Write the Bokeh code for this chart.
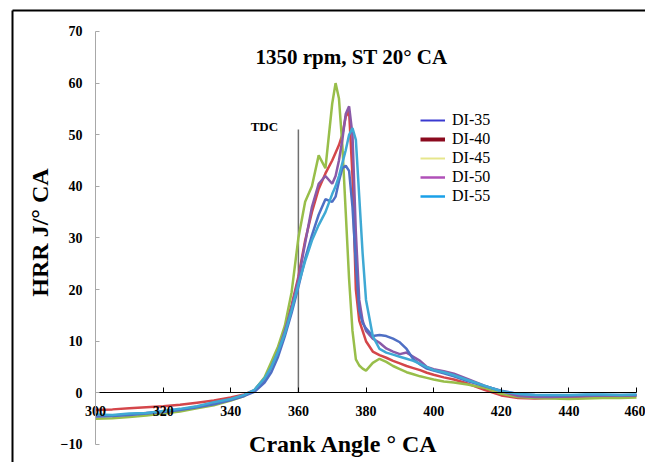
from math import pi
from bokeh.plotting import figure
from bokeh.models import Label, Legend, LegendItem, FixedTicker, Range1d
from bokeh.embed import file_html
from bokeh.resources import INLINE

# ---------------- data ----------------
crank_angle = [300, 305, 310, 315, 320, 325, 330, 335, 340, 344, 347,
               350, 352, 354, 356, 358, 360, 362, 364, 366, 368, 370,
               371, 372, 373, 374, 375, 376, 377, 378, 379, 380,
               382, 384, 386, 388, 390, 392, 394, 396, 398, 400,
               403, 406, 410, 415, 420, 425, 430, 435, 440, 445, 450, 455, 460]

di_35 = [-4.6, -4.5, -4.3, -4.0, -3.7, -3.3, -2.8, -2.2, -1.4, -0.6, 0.2,
         2.0, 4.0, 7.0, 11.0, 15.5, 20.5, 26.0, 30.5, 34.5, 37.5, 37.0,
         38.0, 41.0, 43.5, 44.0, 43.0, 36.0, 25.0, 16.0, 13.5, 12.5,
         11.0, 11.2, 11.0, 10.5, 9.8, 8.5, 6.5, 5.5, 4.7, 4.3,
         3.8, 3.2, 2.3, 1.3, 0.4, -0.2, -0.4, -0.5, -0.5, -0.4, -0.4, -0.4, -0.4]

di_40 = [-3.3, -3.2, -3.0, -2.8, -2.6, -2.3, -1.9, -1.5, -0.9, -0.3, 0.5,
         2.8, 5.3, 8.5, 12.5, 17.0, 22.5, 29.5, 35.0, 39.5, 42.5, 45.0,
         46.5, 48.0, 50.0, 53.5, 54.5, 42.0, 20.0, 14.0, 12.0, 10.0,
         8.0, 7.3, 6.8, 6.2, 5.7, 5.2, 4.8, 4.4, 3.9, 3.5,
         3.0, 2.6, 1.8, 0.6, -0.5, -1.0, -1.1, -1.0, -0.8, -0.7, -0.6, -0.6, -0.5]

di_45 = [-5.0, -4.9, -4.7, -4.4, -4.0, -3.6, -3.0, -2.4, -1.5, -0.6, 0.5,
         3.0, 6.0, 9.0, 13.0, 19.5, 30.0, 37.0, 40.0, 46.0, 43.5, 56.0,
         60.0, 57.0, 48.0, 35.0, 22.0, 12.0, 6.5, 5.3, 4.7, 4.3,
         5.8, 6.6, 6.0, 5.2, 4.6, 4.0, 3.6, 3.2, 2.9, 2.6,
         2.2, 2.0, 1.6, 1.0, -0.2, -0.8, -1.0, -1.1, -1.2, -1.1, -1.0, -1.0, -0.9]

di_50 = [-4.5, -4.4, -4.2, -3.9, -3.6, -3.2, -2.7, -2.1, -1.3, -0.5, 0.4,
         2.5, 5.0, 8.0, 12.0, 16.5, 22.0, 29.0, 36.0, 40.5, 42.0, 40.5,
         42.0, 45.0, 49.0, 54.0, 55.5, 50.0, 31.0, 18.0, 14.0, 12.0,
         10.5, 9.7, 8.6, 8.0, 7.5, 7.8, 7.0, 6.2, 5.0, 4.6,
         4.2, 3.7, 2.7, 1.4, 0.3, -0.6, -0.8, -0.8, -0.7, -0.6, -0.5, -0.5, -0.5]

di_55 = [-4.2, -4.3, -4.0, -3.9, -3.5, -3.1, -2.6, -1.8, -1.2, -0.4, 0.6,
         2.8, 5.0, 8.0, 11.5, 16.0, 21.0, 25.5, 29.5, 32.5, 35.0, 38.5,
         40.0, 42.0, 44.5, 47.0, 50.0, 51.3, 49.0, 38.0, 27.0, 18.0,
         11.0, 8.5, 7.8, 7.4, 7.0, 6.6, 6.2, 5.6, 5.0, 4.4,
         4.0, 3.4, 2.5, 1.4, 0.3, -0.2, -0.4, -0.4, -0.4, -0.3, -0.3, -0.4, -0.3]

series_names = ["DI-35", "DI-40", "DI-45", "DI-50", "DI-55"]
series_values = [di_35, di_40, di_45, di_50, di_55]

x_ticks = [300, 320, 340, 360, 380, 400, 420, 440, 460]
y_ticks = [-10, 0, 10, 20, 30, 40, 50, 60, 70]

tdc_angle = 360
tdc_top = 51

title_text = "1350 rpm, ST 20° CA"
x_label = "Crank Angle ° CA"
y_label = "HRR J/° CA"

# ---------------- layout / styles ----------------
# the frame fills the whole canvas; axes are placed at fixed positions
view_x = (271.9, 462.66)
view_y = (-13.49, 76.0)
border_left = 275.45
border_top = 74.07

line_colors = ["#4f6fc4", "#d4464a", "#98be4a", "#8a5aa8", "#3fa9d4"]
legend_colors = ["#3a3ad0", "#8b0a1e", "#e6e68c", "#b050b8", "#1aa0e8"]
legend_widths = [2, 4, 2, 2.5, 2.5]
serif = "Liberation Serif"

p = figure(width=645, height=462,
           x_range=Range1d(*view_x), y_range=Range1d(*view_y),
           output_backend="svg", toolbar_location=None,
           min_border_left=0, min_border_right=0,
           min_border_top=0, min_border_bottom=0)
p.outline_line_color = None
p.xgrid.visible = False
p.ygrid.visible = False
p.background_fill_color = "white"
p.border_fill_color = "white"

# y axis at x = 300
p.yaxis.fixed_location = x_ticks[0]
p.yaxis.bounds = (y_ticks[0], y_ticks[-1])
p.yaxis.ticker = FixedTicker(ticks=y_ticks)
p.yaxis.axis_line_color = "#a8a8a8"
p.yaxis.major_tick_line_color = "#a8a8a8"
p.yaxis.major_tick_in = 4
p.yaxis.major_tick_out = 0
p.yaxis.minor_tick_line_color = None
p.yaxis.major_label_standoff = 13
p.yaxis.major_label_text_font = serif
p.yaxis.major_label_text_font_style = "bold"
p.yaxis.major_label_text_font_size = "14px"
p.yaxis.major_label_text_color = "black"

# x axis crossing at y = 0
p.xaxis.fixed_location = 0
p.xaxis.bounds = (x_ticks[0], x_ticks[-1])
p.xaxis.ticker = FixedTicker(ticks=x_ticks)
p.xaxis.axis_line_color = "black"
p.xaxis.major_tick_line_color = "black"
p.xaxis.major_tick_in = 5
p.xaxis.major_tick_out = 0
p.xaxis.minor_tick_line_color = None
p.xaxis.major_label_standoff = 13
p.xaxis.major_label_text_font = serif
p.xaxis.major_label_text_font_style = "bold"
p.xaxis.major_label_text_font_size = "14px"
p.xaxis.major_label_text_color = "black"

# outer black border (left and top edges)
p.segment(x0=[border_left, border_left], y0=[border_top, border_top],
          x1=[border_left, view_x[1]], y1=[view_y[0], border_top],
          line_color="black", line_width=2)

# TDC line
p.segment(x0=[tdc_angle], y0=[0], x1=[tdc_angle], y1=[tdc_top],
          line_color="#707070", line_width=1.5)
p.add_layout(Label(x=tdc_angle, y=tdc_top, x_offset=-34, y_offset=3,
                   text="TDC", text_font=serif, text_font_style="bold",
                   text_font_size="13px", text_align="center",
                   text_baseline="middle", text_color="black"))

# curves
draw_order = [1, 2, 3, 0, 4]
for i in draw_order:
    p.line(crank_angle, series_values[i], line_color=line_colors[i],
           line_width=2.5)

# legend (sample swatches)
nan = float("nan")
items = []
for i, name in enumerate(series_names):
    r = p.line([nan], [nan], line_color=legend_colors[i],
               line_width=legend_widths[i])
    items.append(LegendItem(label=name, renderers=[r]))
legend = Legend(items=items, location=(420, 257), border_line_color=None,
                background_fill_alpha=0, padding=0, margin=0,
                glyph_width=25, glyph_height=18, label_height=18,
                spacing=1, label_standoff=7,
                label_text_font=serif, label_text_font_size="16px",
                label_text_color="black")
p.add_layout(legend)

# texts
p.add_layout(Label(x=375.7, y=64.96, text=title_text, text_font=serif,
                   text_font_style="bold", text_font_size="21px",
                   text_align="center", text_baseline="middle",
                   text_color="black"))
p.add_layout(Label(x=373.35, y=-9.81, text=x_label, text_font=serif,
                   text_font_style="bold", text_font_size="24px",
                   text_align="center", text_baseline="middle",
                   text_color="black"))
p.add_layout(Label(x=283.73, y=31.06, text=y_label, text_font=serif,
                   text_font_style="bold", text_font_size="24px",
                   text_align="center", text_baseline="middle", angle=pi / 2,
                   text_color="black"))

open("out.html", "w").write(file_html(p, INLINE))
